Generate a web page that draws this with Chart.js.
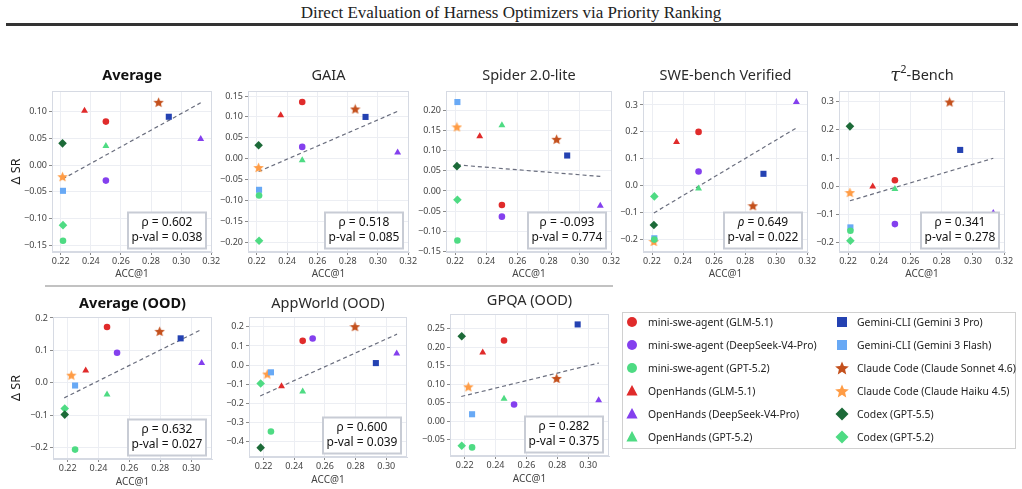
<!DOCTYPE html>
<html>
<head>
<meta charset="utf-8">
<script src="https://cdn.jsdelivr.net/npm/chart.js@4.4.1/dist/chart.umd.min.js"></script>
<style>
  body { margin: 0; background: #fff; }
  #page { position: relative; width: 1022px; height: 489px; overflow: hidden; font-family: "Noto Sans", sans-serif; }
  #suptitle { position: absolute; left: 0; width: 1022px; top: 3px; text-align: center; font-family: "Liberation Serif", serif; font-size: 17px; line-height: 19px; color: #222; }
  #rule { position: absolute; left: 6px; width: 1012px; top: 23px; height: 2.5px; background: #333; }
  #sep { position: absolute; left: 45px; width: 568px; top: 285px; height: 1.5px; background: #c2c2c2; }
  #legend { position: absolute; left: 622px; top: 312px; width: 392px; height: 135px; border: 1px solid #d0d0d0; }
  #legend canvas { position: absolute; left: 0; top: 0; }
  .item { position: absolute; font-size: 10.4px; line-height: 14px; color: #222; white-space: nowrap; }
</style>
</head>
<body>
<div id="page">
  <div id="suptitle">Direct Evaluation of Harness Optimizers via Priority Ranking</div>
  <div id="rule"></div>
  <div id="sep"></div>
  <div id="legend"><canvas id="legendMarks" width="392" height="135"></canvas></div>
</div>
<script>
// harness / model combinations, in legend order
const seriesNames = [
  'mini-swe-agent (GLM-5.1)',
  'mini-swe-agent (DeepSeek-V4-Pro)',
  'mini-swe-agent (GPT-5.2)',
  'OpenHands (GLM-5.1)',
  'OpenHands (DeepSeek-V4-Pro)',
  'OpenHands (GPT-5.2)',
  'Gemini-CLI (Gemini 3 Pro)',
  'Gemini-CLI (Gemini 3 Flash)',
  'Claude Code (Claude Sonnet 4.6)',
  'Claude Code (Claude Haiku 4.5)',
  'Codex (GPT-5.5)',
  'Codex (GPT-5.2)'
];
const seriesColors = ['#e02b2b', '#8440ee', '#4edb83', '#e02b2b', '#8440ee', '#4edb83',
  '#2442b2', '#68a9f5', '#c4501c', '#ff9c45', '#1c6a38', '#4edb83'];
const seriesShapes = ['circle', 'circle', 'circle', 'triangle', 'triangle', 'triangle',
  'rect', 'rect', 'star', 'star', 'rectRot', 'rectRot'];

// ACC@1 (x) for the in-domain row and the OOD row
const xMain = [0.25, 0.25, 0.2215, 0.2358, 0.313, 0.25, 0.2918, 0.2215, 0.285, 0.2212, 0.2212, 0.2215];
const xOod = [0.2455, 0.252, 0.2248, 0.2317, 0.3068, 0.2455, 0.2932, 0.2248, 0.2796, 0.2224, 0.2181, 0.2181];

// delta SR (y) per benchmark
const yAverage = [0.081, -0.029, -0.141, 0.101, 0.0485, 0.0355, 0.090, -0.048, 0.117, -0.0216, 0.0405, -0.112];
const yGaia = [0.1357, 0.0283, -0.088, 0.104, 0.0148, -0.0035, 0.100, -0.0743, 0.119, -0.021, 0.0323, -0.196];
const ySpider = [-0.035, -0.064, -0.1235, 0.136, -0.0367, 0.1636, 0.0883, 0.2215, 0.1288, 0.1595, 0.0618, -0.0217];
const ySwe = [0.2, 0.053, -0.2, 0.163, 0.311, -0.0099, 0.0444, -0.195, -0.074, -0.207, -0.1457, -0.0395];
const yTau = [0.0217, -0.134, -0.1575, -0.0007, -0.095, -0.010, 0.129, -0.1457, 0.299, -0.022, 0.2127, -0.193];
const yAvgOod = [0.172, 0.0925, -0.207, 0.0377, 0.0605, -0.0367, 0.137, -0.0088, 0.1587, 0.0233, -0.0987, -0.080];
const yAppWorld = [0.127, 0.139, -0.348, -0.111, 0.061, -0.139, 0.0104, -0.038, 0.2017, -0.047, -0.433, -0.097];
const yGpqa = [0.2183, 0.0452, -0.0708, 0.1857, 0.057, 0.0606, 0.2618, 0.0189, 0.1159, 0.0932, 0.230, -0.0663];

// regression line end points
const fitXMain = [0.2212, 0.313];
const fitXOod = [0.2178, 0.307];
const fitAverage = [-0.026, 0.116];
const fitGaia = [-0.0306, 0.1134];
const fitSpider = [0.065, 0.0362];
const fitSwe = [-0.101, 0.2148];
const fitTau = [-0.0514, 0.0995];
const fitAvgOod = [-0.047, 0.165];
const fitAppWorld = [-0.162, 0.162];
const fitGpqa = [0.067, 0.1576];

// Spearman stats
const rhoValues = ['0.602', '0.518', '-0.093', '0.649', '0.341', '0.632', '0.600', '0.282'];
const pValues = ['0.038', '0.085', '0.774', '0.022', '0.278', '0.027', '0.039', '0.375'];

const panelTitles = ['Average', 'GAIA', 'Spider 2.0-lite', 'SWE-bench Verified', 'τ²-Bench',
  'Average (OOD)', 'AppWorld (OOD)', 'GPQA (OOD)'];
const xTicksMain = [0.22, 0.24, 0.26, 0.28, 0.30, 0.32];
const xTicksOod = [0.22, 0.24, 0.26, 0.28, 0.30];

const FONT = '"Noto Sans", sans-serif';

function starImage(color, size) {
  const c = document.createElement('canvas');
  c.width = size; c.height = size;
  drawStar(c.getContext('2d'), size / 2, size / 2 + 0.4, size / 2, color);
  return c;
}
function drawStar(ctx, cx, cy, R, color) {
  const r = R * 0.45;
  ctx.beginPath();
  for (let i = 0; i < 10; i++) {
    const a = -Math.PI / 2 + i * Math.PI / 5;
    const rr = i % 2 ? r : R;
    ctx.lineTo(cx + rr * Math.cos(a), cy + rr * Math.sin(a));
  }
  ctx.closePath();
  ctx.fillStyle = color;
  ctx.fill();
}

const starSmall = {};
seriesColors.forEach((c, i) => { if (seriesShapes[i] === 'star') starSmall[i] = starImage(c, 11); });

const radiusFor = { circle: 3.3, triangle: 4, rect: 4.3, rectRot: 4.3, star: 5.5 };

const panelDecor = {
  id: 'panelDecor',
  beforeDatasetsDraw(chart) {
    const { ctx, chartArea: a } = chart;
    ctx.save();
    ctx.strokeStyle = '#d6dae3';
    ctx.lineWidth = 1;
    ctx.strokeRect(a.left + 0.5, a.top + 0.5, a.right - a.left - 1, a.bottom - a.top - 1);
    ctx.restore();
  },
  afterDatasetsDraw(chart, args, o) {
    const { ctx, chartArea: a } = chart;
    ctx.save();
    const bw = 78, bh = 36;
    const bx = a.right - 6 - bw, by = a.bottom - 3.5 - bh;
    ctx.fillStyle = '#fff';
    ctx.fillRect(bx, by, bw, bh);
    ctx.strokeStyle = '#c8ccd5';
    ctx.lineWidth = 2;
    ctx.strokeRect(bx, by, bw, bh);
    ctx.fillStyle = '#111';
    ctx.textBaseline = 'middle';
    const cx = bx + bw / 2;
    // first line: rho
    const rhoFont = (o.italicRho ? 'italic ' : '') + '12px ' + FONT;
    const rest = ' = ' + o.rho;
    ctx.font = rhoFont;
    const w1 = ctx.measureText('ρ').width;
    ctx.font = '12px ' + FONT;
    const w2 = ctx.measureText(rest).width;
    const x0 = cx - (w1 + w2) / 2;
    ctx.textAlign = 'left';
    ctx.font = rhoFont;
    ctx.fillText('ρ', x0, by + bh / 2 - 7.5);
    ctx.font = '12px ' + FONT;
    ctx.fillText(rest, x0 + w1, by + bh / 2 - 7.5);
    ctx.textAlign = 'center';
    ctx.fillText('p-val = ' + o.p, cx, by + bh / 2 + 7);
    ctx.restore();
  },
  afterDraw(chart, args, o) {
    const { ctx, chartArea: a } = chart;
    ctx.save();
    ctx.fillStyle = '#2a2a2a';
    ctx.textBaseline = 'middle';
    const cx = (a.left + a.right) / 2, cy = a.top - o.titleGap;
    if (o.title === 'τ²-Bench') {
      const parts = [
        { t: 'τ', f: 'italic 18px "DejaVu Serif", serif', dy: 0 },
        { t: '2', f: '11px ' + FONT, dy: -6 },
        { t: '-Bench', f: '14.5px ' + FONT, dy: 0 }
      ];
      let tw = 0;
      parts.forEach(p => { ctx.font = p.f; p.w = ctx.measureText(p.t).width; tw += p.w; });
      let x = cx - tw / 2;
      ctx.textAlign = 'left';
      parts.forEach(p => { ctx.font = p.f; ctx.fillText(p.t, x, cy + p.dy); x += p.w; });
    } else {
      ctx.font = (o.bold ? 'bold ' : '') + '14.5px ' + FONT;
      ctx.fillStyle = o.bold ? '#111' : '#2a2a2a';
      ctx.textAlign = 'center';
      ctx.fillText(o.title, cx, cy);
    }
    ctx.restore();
  }
};
Chart.register(panelDecor);

const panels = [
  { ys: yAverage, fit: fitAverage, box: [52, 91, 212, 252], yr: [-0.162, 0.138], step: 0.05, dec: 2, row: 0, bold: true, ylabel: true },
  { ys: yGaia, fit: fitGaia, box: [248, 91, 409, 252], yr: [-0.223, 0.162], step: 0.05, dec: 2, row: 0 },
  { ys: ySpider, fit: fitSpider, box: [446, 91, 612, 252], yr: [-0.152, 0.249], step: 0.05, dec: 2, row: 0 },
  { ys: ySwe, fit: fitSwe, box: [643, 91, 808, 252], yr: [-0.246, 0.352], step: 0.1, dec: 1, row: 0, italicRho: true },
  { ys: yTau, fit: fitTau, box: [839, 91, 1005, 252], yr: [-0.233, 0.338], step: 0.1, dec: 1, row: 0 },
  { ys: yAvgOod, fit: fitAvgOod, box: [53, 317, 212, 459], yr: [-0.236, 0.203], step: 0.1, dec: 1, row: 1, bold: true, ylabel: true },
  { ys: yAppWorld, fit: fitAppWorld, box: [249, 317, 407, 457], yr: [-0.482, 0.252], step: 0.1, dec: 1, row: 1 },
  { ys: yGpqa, fit: fitGpqa, box: [450, 314, 609, 456], yr: [-0.094, 0.29], step: 0.05, dec: 2, row: 1 }
];

const page = document.getElementById('page');

function fmt(v, d) {
  if (Math.abs(v) < 1e-9) v = 0;
  return (v < 0 ? '\u2212' : '') + Math.abs(v).toFixed(d);
}

panels.forEach((p, k) => {
  const xs = p.row === 0 ? xMain : xOod;
  const fitX = p.row === 0 ? fitXMain : fitXOod;
  const xTicks = p.row === 0 ? xTicksMain : xTicksOod;
  const xr = p.row === 0 ? [0.2142, 0.3205] : [0.2105, 0.3135];
  const yw = p.ylabel ? p.box[0] : 40;
  const left = p.box[0] - yw, top = p.box[1] - 32;
  const xh = p.row === 0 ? 28 : 29;
  const width = p.box[2] + 16 - left, height = p.box[3] + xh - top;

  const canvas = document.createElement('canvas');
  canvas.width = width; canvas.height = height;
  canvas.style.cssText = `position:absolute;left:${left}px;top:${top}px;width:${width}px;height:${height}px;`;
  page.appendChild(canvas);

  const yTicks = [];
  for (let n = Math.ceil(p.yr[0] / p.step - 1e-9); n <= Math.floor(p.yr[1] / p.step + 1e-9); n++) {
    yTicks.push(Math.round(n * p.step * 1000) / 1000);
  }

  const datasets = seriesNames.map((name, i) => ({
    label: name,
    data: [{ x: xs[i], y: p.ys[i] }],
    pointStyle: seriesShapes[i] === 'star' ? starSmall[i] : seriesShapes[i],
    pointRadius: radiusFor[seriesShapes[i]],
    backgroundColor: seriesColors[i],
    borderColor: seriesColors[i],
    borderWidth: 0,
    order: 0
  }));
  datasets.push({
    label: 'fit',
    data: [{ x: fitX[0], y: p.fit[0] }, { x: fitX[1], y: p.fit[1] }],
    showLine: true,
    borderColor: '#6a6e7e',
    borderDash: [4, 3],
    borderWidth: 1.2,
    pointRadius: 0,
    order: 1
  });

  new Chart(canvas.getContext('2d'), {
    type: 'scatter',
    data: { datasets },
    options: {
      responsive: false,
      animation: false,
      events: [],
      layout: { padding: { left: 0, right: 16, top: 32, bottom: 0 } },
      plugins: {
        legend: { display: false },
        tooltip: { enabled: false },
        panelDecor: { title: panelTitles[k], bold: !!p.bold, rho: rhoValues[k], p: pValues[k],
          italicRho: !!p.italicRho, titleGap: p.row === 0 ? 15 : 13 }
      },
      scales: {
        x: {
          type: 'linear', min: xr[0], max: xr[1],
          afterBuildTicks: s => { s.ticks = xTicks.map(v => ({ value: v })); },
          afterFit: s => { s.height = xh; },
          ticks: { font: { family: FONT, size: 9 }, color: '#444', padding: 1, maxRotation: 0, autoSkip: false,
            callback: v => v.toFixed(2) },
          grid: { color: '#eceef3', tickColor: '#8a8a8a', tickLength: 3 },
          border: { color: '#d6dae3' },
          title: { display: true, text: 'ACC@1', font: { family: FONT, size: 10 }, color: '#444',
            padding: { top: 0, bottom: 0 } }
        },
        y: {
          type: 'linear', min: p.yr[0], max: p.yr[1],
          afterBuildTicks: s => { s.ticks = yTicks.map(v => ({ value: v })); },
          afterFit: s => { s.width = yw; },
          ticks: { font: { family: FONT, size: 9 }, color: '#444', padding: 2, autoSkip: false,
            callback: v => fmt(v, p.dec) },
          grid: { color: '#eceef3', tickColor: '#8a8a8a', tickLength: 3 },
          border: { color: '#d6dae3' },
          title: { display: !!p.ylabel, text: 'Δ SR', font: { family: FONT, size: 12.5 }, color: '#222',
            padding: { top: 9, bottom: 0 } }
        }
      }
    }
  });
});

// legend: two columns of six
(function () {
  const lg = document.getElementById('legend');
  const ctx = document.getElementById('legendMarks').getContext('2d');
  const ox = 623, oy = 313;
  seriesNames.forEach((name, i) => {
    const col = Math.floor(i / 6), row = i % 6;
    const mx = (col ? 842 : 632) - ox, my = 322 + 23 * row - oy;
    const color = seriesColors[i];
    ctx.fillStyle = color;
    ctx.beginPath();
    switch (seriesShapes[i]) {
      case 'circle': ctx.arc(mx, my, 5, 0, Math.PI * 2); ctx.fill(); break;
      case 'triangle':
        ctx.moveTo(mx, my - 6); ctx.lineTo(mx + 5.6, my + 4.6); ctx.lineTo(mx - 5.6, my + 4.6);
        ctx.closePath(); ctx.fill(); break;
      case 'rect': ctx.fillRect(mx - 5, my - 5, 10, 10); break;
      case 'star': drawStar(ctx, mx, my + 0.6, 7.2, color); break;
      case 'rectRot':
        ctx.moveTo(mx, my - 6.5); ctx.lineTo(mx + 6.5, my); ctx.lineTo(mx, my + 6.5); ctx.lineTo(mx - 6.5, my);
        ctx.closePath(); ctx.fill(); break;
    }
    const span = document.createElement('div');
    span.className = 'item';
    span.textContent = name;
    span.style.left = ((col ? 857 : 648) - ox) + 'px';
    span.style.top = (my - 7.5) + 'px';
    lg.appendChild(span);
  });
})();
</script>
</body>
</html>
